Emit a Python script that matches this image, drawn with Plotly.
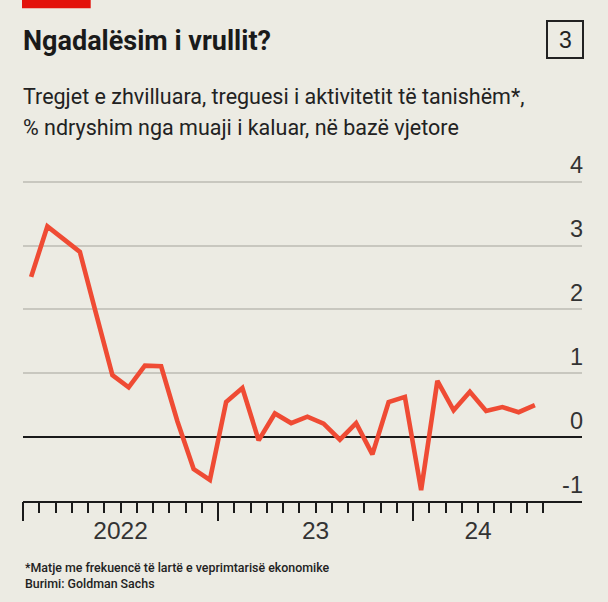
import plotly.graph_objects as go

# ---- data ----
months = ["2022-01", "2022-02", "2022-03", "2022-04", "2022-05", "2022-06",
          "2022-07", "2022-08", "2022-09", "2022-10", "2022-11", "2022-12",
          "2023-01", "2023-02", "2023-03", "2023-04", "2023-05", "2023-06",
          "2023-07", "2023-08", "2023-09", "2023-10", "2023-11", "2023-12",
          "2024-01", "2024-02", "2024-03", "2024-04", "2024-05", "2024-06",
          "2024-07", "2024-08"]
values = [2.51, 3.30, 3.10, 2.90, 1.93, 0.97, 0.78, 1.12, 1.11, 0.25, -0.50, -0.67,
          0.55, 0.77, -0.05, 0.37, 0.22, 0.32, 0.21, -0.04, 0.22, -0.27, 0.55, 0.63,
          -0.83, 0.88, 0.42, 0.71, 0.41, 0.47, 0.39, 0.50]
year_labels = ["2022", "23", "24"]
y_ticks = [-1, 0, 1, 2, 3, 4]
y_tick_text = ["-1", "0", "1", "2", "3", "4"]

title = "Ngadalësim i vrullit?"
subtitle1 = "Tregjet e zhvilluara, treguesi i aktivitetit të tanishëm*,"
subtitle2 = "% ndryshim nga muaji i kaluar, në bazë vjetore"
note1 = "*Matje me frekuencë të lartë e veprimtarisë ekonomike"
note2 = "Burimi: Goldman Sachs"
chart_no = "3"

# ---- derived positions (month index scale, 0 = start of Jan 2022) ----
def month_index(s):
    y, m = s.split("-")
    return (int(y) - 2022) * 12 + int(m) - 1

x_vals = [month_index(m) + 0.5 for m in months]
n_ticks = month_index(months[-1]) + 2          # monthly ticks up to start of next month
minor_ticks = list(range(n_ticks))
year_starts = [t for t in minor_ticks if t % 12 == 0]
year_label_pos = []
for ys in year_starts:
    end = min(ys + 12, n_ticks - 1)
    year_label_pos.append((ys + end) / 2)

# ---- layout geometry ----
W, H = 608, 602
ML, MR, MT, MB = 23, 26, 150, 101
PW, PH = W - ML - MR, H - MT - MB
X_RANGE = [0, PW / 16.25]
Y_RANGE = [-1, -1 + PH / 63.86]

def px(x):
    return (x - ML) / PW

def py(y):
    return (H - MB - y) / PH

BG = "#ecebe3"
RED = "#ef4b34"
DARK = "#1a1a1a"
COND = "Roboto, Liberation Sans, Arial, sans-serif"
SANS = "Liberation Sans, Arial, Helvetica, sans-serif"

fig = go.Figure()
fig.add_trace(go.Scatter(
    x=x_vals, y=values, mode="lines",
    line=dict(color=RED, width=4.6, shape="linear"),
    showlegend=False, hoverinfo="x+y",
))
# helper trace so the overlay axis (long year ticks) is drawn
fig.add_trace(go.Scatter(
    x=year_starts, y=[None] * len(year_starts), xaxis="x2",
    mode="lines", showlegend=False, hoverinfo="skip",
))

fig.update_layout(
    width=W, height=H,
    margin=dict(l=ML, r=MR, t=MT, b=MB, pad=0),
    paper_bgcolor=BG, plot_bgcolor=BG,
    showlegend=False,
    xaxis=dict(
        range=X_RANGE, showgrid=False, zeroline=False,
        showline=True, linecolor=DARK, linewidth=2,
        tickmode="array", tickvals=year_label_pos, ticktext=year_labels,
        ticks="", ticklabelstandoff=7,
        tickfont=dict(family=SANS, size=24.5, color="#333333"),
        minor=dict(tickmode="array", tickvals=minor_ticks, ticks="outside",
                   ticklen=10, tickwidth=2, tickcolor=DARK, showgrid=False),
    ),
    xaxis2=dict(
        range=X_RANGE, overlaying="x", anchor="y", side="bottom",
        showgrid=False, zeroline=False, showline=False,
        tickmode="array", tickvals=year_starts, ticks="outside",
        ticklen=19, tickwidth=2, tickcolor=DARK, showticklabels=False,
    ),
    yaxis=dict(
        range=Y_RANGE, side="right",
        tickmode="array", tickvals=y_ticks, ticktext=y_tick_text,
        showgrid=True, gridcolor="#c8c7bf", gridwidth=1.6,
        zeroline=True, zerolinecolor=DARK, zerolinewidth=2,
        showline=False, ticks="",
        ticklabelposition="inside top", ticklabelstandoff=-4,
        tickfont=dict(family=SANS, size=23.5, color="#333333"),
    ),
)

shapes = [
    dict(type="rect", xref="paper", yref="paper",
         x0=px(22), x1=px(90.7), y0=py(8.3), y1=py(-2),
         fillcolor="#e3120b", line=dict(width=0), layer="above"),
    dict(type="rect", xref="paper", yref="paper",
         x0=px(547), x1=px(583), y0=py(58), y1=py(21),
         fillcolor="rgba(0,0,0,0)", line=dict(color="#222222", width=2)),
]
fig.update_layout(shapes=shapes)

def ann(text, x, y, size, family, color="#1a1a1a", weight="normal", xanchor="left"):
    return dict(text=text, xref="paper", yref="paper", x=px(x), y=py(y),
                xanchor=xanchor, yanchor="middle", showarrow=False,
                font=dict(family=family, size=size, color=color, weight=weight))

annotations = [
    ann(title, 21, 40.5, 27, COND, weight="bold"),
    ann(subtitle1, 21, 97, 21.5, COND, color="#222222"),
    ann(subtitle2, 21, 127, 21.5, COND, color="#222222"),
    ann(note1, 23, 567, 12.4, COND, color="#222222", weight=500),
    ann(note2, 23, 583, 12.4, COND, color="#222222", weight=500),
    ann(chart_no, 565, 40, 23, SANS, color="#222222", xanchor="center"),
]
fig.update_layout(annotations=annotations)

fig.write_html(
    "out.html",
    config={"displayModeBar": False},
    post_script="document.body.style.margin='0';"
                "document.documentElement.style.overflow='hidden';",
)
